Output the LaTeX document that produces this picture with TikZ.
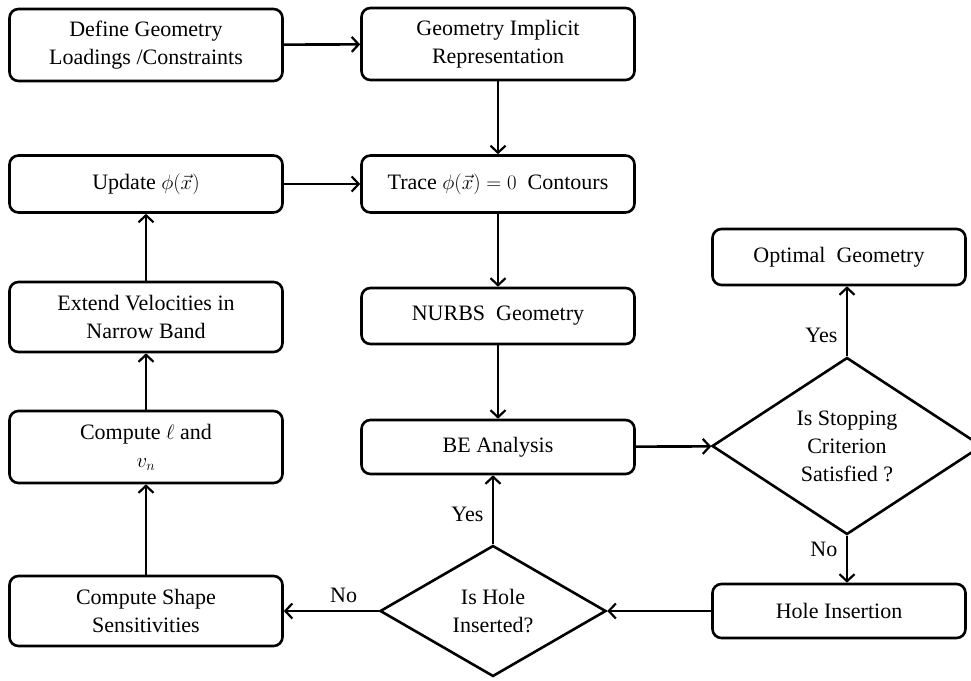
\documentclass[tikz,border=0pt]{standalone}
\usepackage{fontspec}
\setmainfont{Liberation Serif}
\usetikzlibrary{shapes,arrows,arrows.meta}

\begin{document}
\begin{tikzpicture}[x=1pt, y=-1pt,
    font=\fontsize{22}{28}\selectfont,
    block/.style={rectangle, draw=black, line width=2.6pt, rounded corners=9pt,
                  align=center, inner sep=0pt, minimum width=273pt},
    decision/.style={diamond, draw=black, line width=2.6pt, align=center, inner sep=0pt},
    flow/.style={line width=2.6pt, -{Straight Barb[length=7pt, width=15pt, line width=2.2pt]}}]
    \useasboundingbox (0, 0) rectangle (971, 680);
%    \draw[help lines, step=50] (0, 0) grid (971, 680);

    % left column
    \node [block, minimum height=72pt] (define)   at (146, 45)  {Define Geometry\\Loadings /Constraints};
    \node [block, minimum height=57pt] (update)   at (146, 184) {Update $\phi(\vec{x})$};
    \node [block, minimum height=70pt] (extend)   at (146, 317) {Extend Velocities in\\Narrow Band};
    \node [block, minimum height=72pt] (computel) at (146, 447) {Compute $\ell$ and\\$v_n$};
    \node [block, minimum height=70pt] (shape)    at (146, 611) {Compute Shape\\Sensitivities};

    % middle column
    \node [block, minimum height=72pt] (implicit) at (498, 44)  {Geometry Implicit\\Representation};
    \node [block, minimum height=57pt] (trace)    at (498, 184) {Trace $\phi(\vec{x})=0$ \ Contours};
    \node [block, minimum height=56pt] (nurbs)    at (498, 316) {NURBS \ Geometry};
    \node [block, minimum height=54pt] (be)       at (498, 447) {BE Analysis};
    \node [decision, minimum width=226pt, minimum height=131pt] (hole) at (493, 611) {Is Hole\\Inserted?};

    % right column
    \node [block, minimum width=253pt, minimum height=56pt] (optimal)   at (839, 257) {Optimal \ Geometry};
    \node [decision, minimum width=270pt, minimum height=177pt] (stop)  at (847, 446) {Is Stopping\\Criterion\\Satisfied ?};
    \node [block, minimum width=253pt, minimum height=54pt] (insertion) at (839, 611) {Hole Insertion};

    \draw[flow] (define) -- (implicit);
    \draw[flow] (implicit) -- (trace);
    \draw[flow] (trace) -- (nurbs);
    \draw[flow] (nurbs) -- (be);
    \draw[flow] (be) -- (stop);
    \draw[flow] (stop.north) -- node[pos=0.3, left=5pt] {Yes} (stop.north |- optimal.south);
    \draw[flow] (stop.south) -- node[pos=0.3, left=5pt] {No} (stop.south |- insertion.north);
    \draw[flow] (insertion) -- (hole);
    \draw[flow] (hole.north) -- node[pos=0.43, left=5pt] {Yes} (hole.north |- be.south);
    \draw[flow] (hole.west) -- node[pos=0.37, above=4pt] {No} (shape.east);
    \draw[flow] (shape) -- (computel);
    \draw[flow] (computel) -- (extend);
    \draw[flow] (extend) -- (update);
    \draw[flow] (update) -- (trace);
\end{tikzpicture}
\end{document}
